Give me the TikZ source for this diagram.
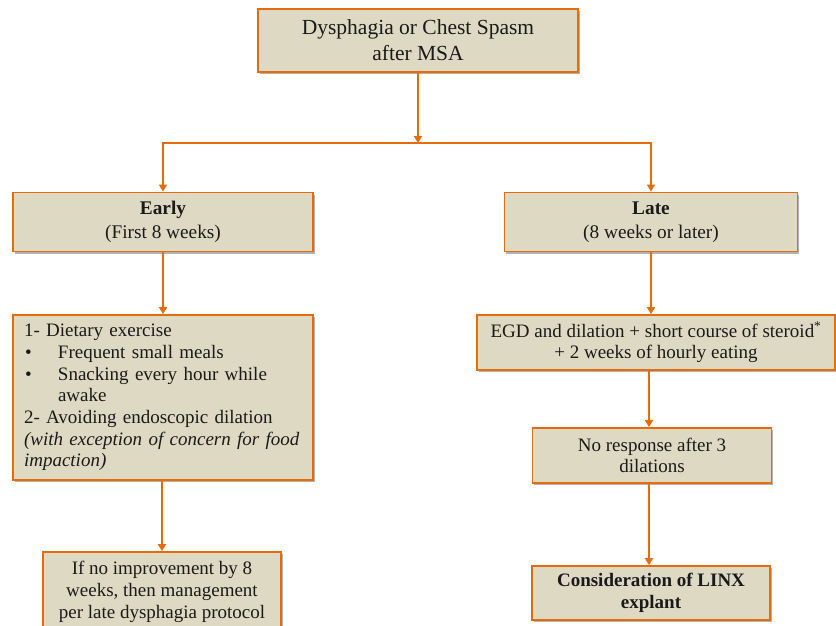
\documentclass[tikz,border=0pt]{standalone}
\usepackage{fontspec}
\setmainfont{Liberation Serif}
\usetikzlibrary{arrows.meta,shadows}
\definecolor{boxfill}{HTML}{DDD9C3}
\definecolor{boxline}{HTML}{E46C0A}
\definecolor{txt}{HTML}{1A1A1A}
\begin{document}
\begin{tikzpicture}[x=1pt,y=-1pt,
  box/.style={draw=boxline, fill=boxfill, line width=1.8pt, inner sep=0pt, text=txt, align=center,
    drop shadow={shadow xshift=1.5pt, shadow yshift=-2pt, opacity=0.3, fill=black}},
  body/.style={font=\fontsize{19}{21.7}\selectfont},
  arr/.style={draw=boxline, line width=1.8pt, -{Triangle[width=8pt,length=7pt]}}]
\useasboundingbox (0,0) rectangle (836,625);

\node[box, minimum width=320pt, minimum height=63pt, font=\fontsize{21.5}{26}\selectfont] (top) at (418,40.5) {Dysphagia or Chest Spasm\\after MSA};

\node[box, minimum width=300pt, minimum height=59pt, font=\fontsize{19.3}{24}\selectfont] (early) at (163,222) {\textbf{Early}\\(First 8 weeks)};
\node[box, minimum width=293pt, minimum height=59pt, font=\fontsize{19.3}{24}\selectfont] (late) at (651,222) {\textbf{Late}\\(8 weeks or later)};

\node[box, body, minimum width=300pt, minimum height=165pt, text width=278pt, align=left] (list) at (163,397.5)
  {1- Dietary exercise\\
   \makebox[34pt][l]{\hspace{1pt}\textbullet}Frequent small meals\\
   \makebox[34pt][l]{\hspace{1pt}\textbullet}Snacking every hour while\\
   \hspace*{34pt}awake\\
   2- Avoiding endoscopic dilation\\
   \textit{(with exception of concern for food}\\
   \textit{impaction)}};

\node[box, body, minimum width=358pt, minimum height=55pt] (egd) at (656,342.5)
  {EGD and dilation + short course of steroid\textsuperscript{*}\\+ 2 weeks of hourly eating};

\node[box, body, minimum width=239pt, minimum height=55pt] (noresp) at (652,455.5)
  {No response after 3\\dilations};

\node[box, body, minimum width=238pt, minimum height=80pt] (improve) at (162,592)
  {If no improvement by 8\\weeks, then management\\per late dysphagia protocol};

\node[box, body, font=\fontsize{19}{21.7}\selectfont\bfseries, minimum width=238pt, minimum height=54pt] (linx) at (651,593)
  {Consideration of LINX\\explant};

\coordinate (split) at (418,143);
\draw[arr] (top.south) -- (split);
\draw[arr] (split) -| (early.north);
\draw[arr] (split) -| (late.north);
\draw[arr] (early.south) -- (list.north);
\draw[arr] (list.south -| improve.north) -- (improve.north);
\draw[arr] (late.south) -- (late.south |- egd.north);
\draw[arr] ([xshift=-3pt]noresp.north |- egd.south) -- ([xshift=-3pt]noresp.north);
\draw[arr] ([xshift=-3pt]noresp.south) -- ([xshift=-3pt]noresp.south |- linx.north);
\end{tikzpicture}
\end{document}
